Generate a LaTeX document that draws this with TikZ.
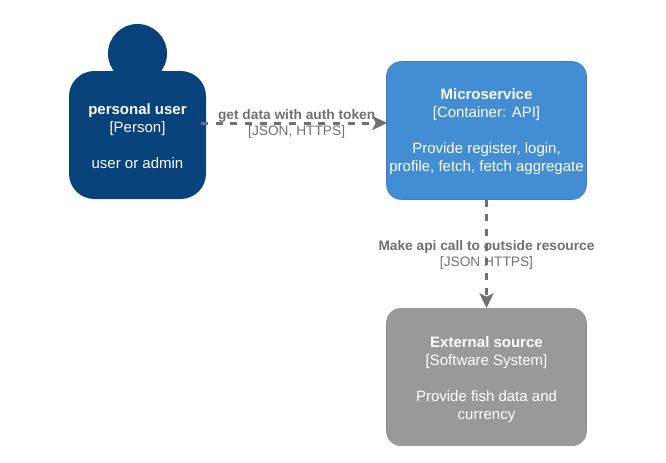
\documentclass[tikz,border=0pt]{standalone}
\usepackage{fontspec}
\setmainfont{Liberation Sans}
\usetikzlibrary{arrows.meta}
\definecolor{persondark}{HTML}{08427B}
\definecolor{apiblue}{HTML}{438DD5}
\definecolor{apiedge}{HTML}{3C7FC0}
\definecolor{extgray}{HTML}{999999}
\definecolor{extedge}{HTML}{8A8A8A}
\definecolor{linkgray}{HTML}{707070}
\newcommand{\toppad}[1]{\rule{0pt}{#1}}
\tikzset{
    head/.style = {circle, fill=persondark, minimum size=44.25pt, inner sep=0pt},
    personbox/.style = {rectangle, rounded corners=19pt, fill=persondark, text=white, align=center, minimum width=102.75pt, minimum height=96pt, inner sep=0pt, font=\fontsize{11.25}{13.3}\selectfont},
    apibox/.style = {rectangle, rounded corners=11pt, draw=apiedge, fill=apiblue, text=white, align=center, minimum width=150pt, minimum height=103.5pt, inner sep=0pt, font=\fontsize{11.25}{13.5}\selectfont},
    extbox/.style = {rectangle, rounded corners=11pt, draw=extedge, fill=extgray, text=white, align=center, minimum width=150pt, minimum height=103pt, inner sep=0pt, font=\fontsize{11.25}{13.5}\selectfont},
    edgel/.style = {-{Stealth[length=11pt,width=10.5pt,inset=2.5pt]}, linkgray, line width=2.25pt, dash pattern=on 5.25pt off 5.75pt},
    edgetxt/.style = {text=linkgray, align=center, inner sep=0pt, font=\fontsize{10.3}{12}\selectfont},
}

\begin{document}
\begin{tikzpicture}[x=0.75pt,y=0.75pt]
\useasboundingbox (0,0) rectangle (666,462);
%
\node[head] at (137.5,408.5) (head) {};
\node[personbox] at (137.5,327) (person) {\toppad{10pt}\textbf{personal user}\\{}[Person]\\[13.3pt]user or admin};
\node[apibox] at (486.5,331.5) (micro) {\toppad{10.5pt}\textbf{Microservice}\\{}[Container: API]\\[13.5pt]Provide register, login,\\profile, fetch, fetch aggregate};
\node[extbox] at (486.5,85) (ext) {\toppad{12pt}\textbf{External source}\\{}[Software System]\\[13.5pt]Provide fish data and\\currency};
%
\coordinate (start) at (201,339);
\coordinate (finish) at (387,339);
\draw[edgel] (start) -- node[edgetxt, xshift=2pt, yshift=-0.6pt] (getlabel) {\textbf{get data with auth token}\\{}[JSON, HTTPS]} (finish);
\draw[edgel] (micro.south) -- node[edgetxt, yshift=-0.6pt] (calllabel) {\textbf{Make api call to outside resource}\\{}[JSON HTTPS]} (ext.north);

\end{tikzpicture}
\end{document}
